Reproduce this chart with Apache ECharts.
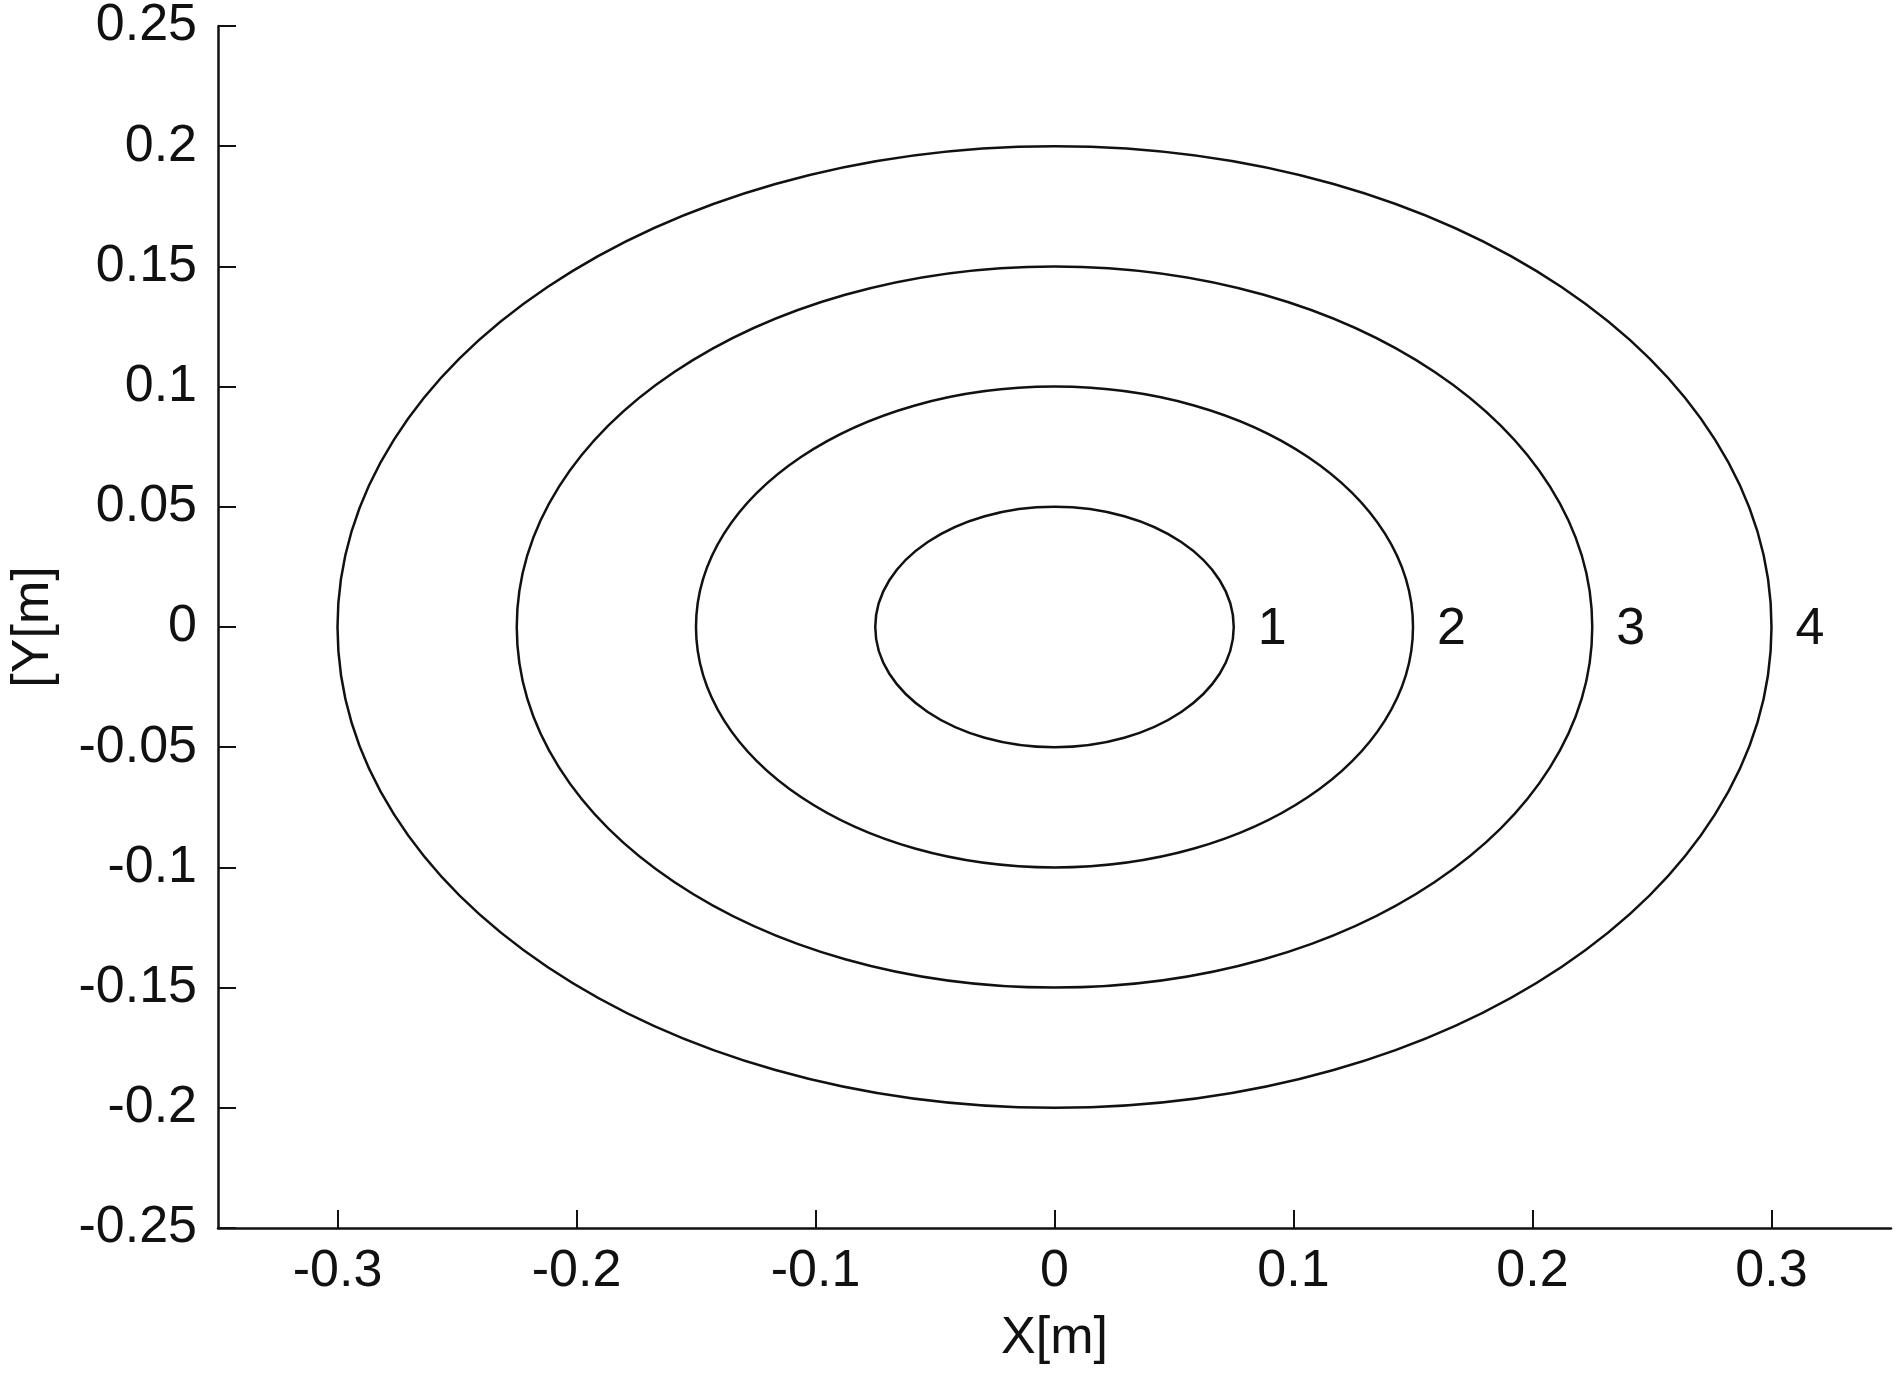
<!DOCTYPE html>
<html>
<head>
<meta charset="utf-8">
<script src="https://cdn.jsdelivr.net/npm/echarts@6/dist/echarts.min.js"></script>
<style>
html,body{margin:0;padding:0;background:#fff;}
#chart{width:1902px;height:1373px;}
</style>
</head>
<body>
<div id="chart"></div>
<script>
// Ellipse data: center and semi-axes (metres), with their labels
const centerX = [0, 0, 0, 0];
const centerY = [0, 0, 0, 0];
const semiX = [0.075, 0.15, 0.225, 0.3];
const semiY = [0.05, 0.1, 0.15, 0.2];
const curveLabels = ['1', '2', '3', '4'];

// Tick labels
const xTicks = [-0.3, -0.2, -0.1, 0, 0.1, 0.2, 0.3];
const yTicks = [-0.25, -0.2, -0.15, -0.1, -0.05, 0, 0.05, 0.1, 0.15, 0.2, 0.25];
const xTickLabels = ['-0.3', '-0.2', '-0.1', '0', '0.1', '0.2', '0.3'];
const yTickLabels = ['-0.25', '-0.2', '-0.15', '-0.1', '-0.05', '0', '0.05', '0.1', '0.15', '0.2', '0.25'];

const FONT = '"Liberation Sans", Arial, sans-serif';
const FS = 52;
const INK = '#111';

const data = semiX.map((a, i) => [centerX[i], centerY[i], a, semiY[i], curveLabels[i]]);

function fmt(list, labels) {
  return function (v) {
    for (let i = 0; i < list.length; i++) {
      if (Math.abs(list[i] - v) < 1e-9) return labels[i];
    }
    return '';
  };
}

const chart = echarts.init(document.getElementById('chart'), null, {renderer: 'canvas'});
chart.setOption({
  animation: false,
  backgroundColor: '#fff',
  grid: {left: 210, top: 24, width: 1681, height: 1204, containLabel: false},
  xAxis: {
    type: 'value', min: -0.35, max: 0.35,
    name: 'X[m]', nameLocation: 'middle', nameGap: 85,
    nameTextStyle: {fontFamily: FONT, fontSize: FS, color: INK},
    axisLine: {show: true, onZero: false, lineStyle: {color: INK, width: 2.5}},
    axisTick: {show: true, inside: true, length: 18, customValues: xTicks, lineStyle: {color: INK, width: 2}},
    axisLabel: {show: true, customValues: xTicks, formatter: fmt(xTicks, xTickLabels), margin: 18,
      fontFamily: FONT, fontSize: FS, color: INK},
    splitLine: {show: false}
  },
  yAxis: {
    type: 'value', min: -0.25, max: 0.25,
    name: '[Y[m]', nameLocation: 'middle', nameGap: 158, nameRotate: 90,
    nameTextStyle: {fontFamily: FONT, fontSize: FS, color: INK},
    axisLine: {show: true, onZero: false, lineStyle: {color: INK, width: 2.5}},
    axisTick: {show: true, inside: true, length: 18, customValues: yTicks, lineStyle: {color: INK, width: 2}},
    axisLabel: {show: true, customValues: yTicks, formatter: fmt(yTicks, yTickLabels), margin: 21,
      fontFamily: FONT, fontSize: FS, color: INK},
    splitLine: {show: false}
  },
  series: [{
    type: 'custom',
    coordinateSystem: 'cartesian2d',
    encode: {x: [0, 2], y: [1, 3]},
    data: data,
    renderItem: function (params, api) {
      const cx = api.value(0), cy = api.value(1), a = api.value(2), b = api.value(3);
      const c = api.coord([cx, cy]);
      const e = api.coord([cx + a, cy + b]);
      const rx = e[0] - c[0];
      const ry = c[1] - e[1];
      return {
        type: 'group',
        children: [{
          type: 'ellipse',
          shape: {cx: c[0], cy: c[1], rx: rx, ry: ry},
          style: {fill: 'none', stroke: INK, lineWidth: 2.5}
        }, {
          type: 'text',
          x: c[0] + rx + 24,
          y: c[1] + 3,
          style: {text: data[params.dataIndex][4], fontFamily: FONT, fontSize: FS, fill: INK,
            align: 'left', verticalAlign: 'middle'}
        }]
      };
    }
  }]
});
</script>
</body>
</html>
